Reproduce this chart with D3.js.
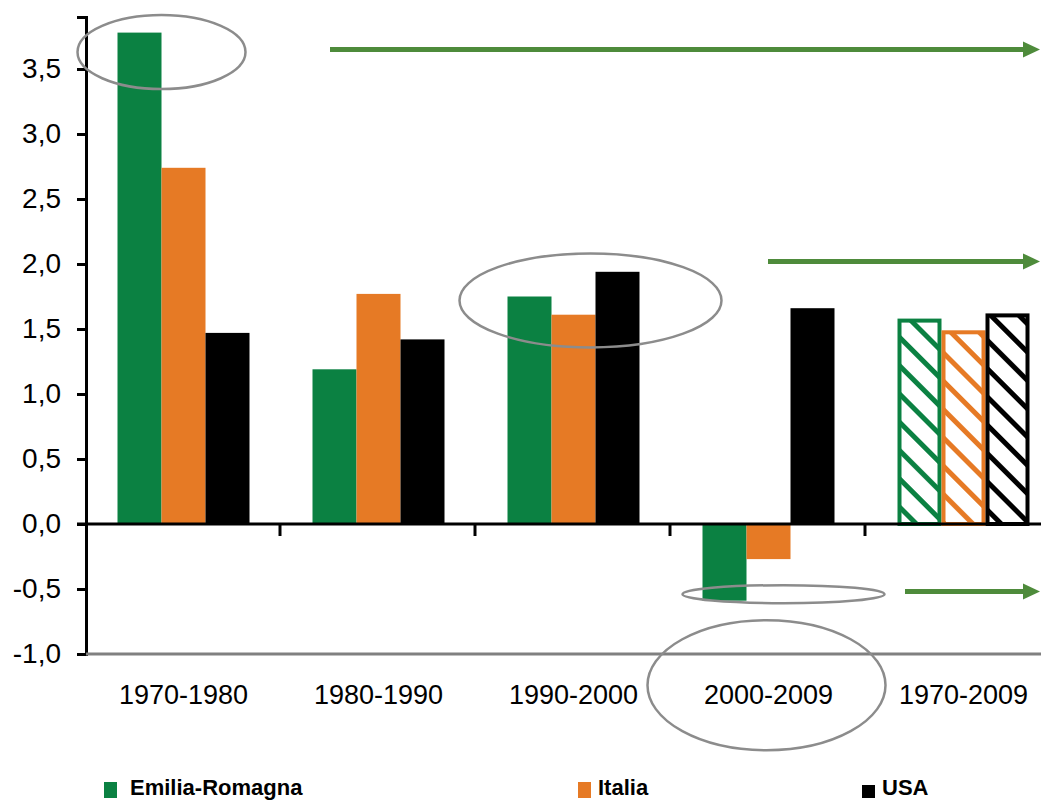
<!DOCTYPE html>
<html>
<head>
<meta charset="utf-8">
<script src="https://cdn.jsdelivr.net/npm/d3@7"></script>
<style>
  body { margin: 0; background: #fff; }
  text { font-family: "Liberation Sans", Arial, sans-serif; }
</style>
</head>
<body>
<svg width="1041" height="802"></svg>
<script>
// dati
const categories = ["1970-1980", "1980-1990", "1990-2000", "2000-2009", "1970-2009"];
const emilia = [3.78, 1.19, 1.75, -0.59, 1.58];
const italia = [2.74, 1.77, 1.61, -0.27, 1.49];
const usa = [1.47, 1.42, 1.94, 1.66, 1.62];
const seriesNames = ["Emilia-Romagna", "Italia", "USA"];
const yTicks = [-1, -0.5, 0, 0.5, 1, 1.5, 2, 2.5, 3, 3.5];

const svg = d3.select("svg");
const colors = ["#0b8142", "#e67a25", "#000000"];
const arrowColor = "#4e8b3b";
const ellipseColor = "#8c8c8c";

const x = d3.scaleBand().domain(categories).range([86, 1061]).padding(0);
const xs = d3.scaleBand().domain(seriesNames)
  .range([x.bandwidth() / 2 - 66, x.bandwidth() / 2 + 66]);
const y = d3.scaleLinear().domain([-1, 3.9]).range([654, 17]);

const values = [emilia, italia, usa];
const data = [];
categories.forEach((c, i) => {
  seriesNames.forEach((s, j) => {
    data.push({ cat: c, serie: s, j, value: values[j][i], hatch: i === categories.length - 1 });
  });
});

// motivo a tratteggio per la colonna 1970-2009
const defs = svg.append("defs");
colors.forEach((c, j) => {
  const p = defs.append("pattern")
    .attr("id", "hatch" + j)
    .attr("patternUnits", "userSpaceOnUse")
    .attr("width", 20).attr("height", 20)
    .attr("patternTransform", "rotate(45)");
  p.append("rect").attr("width", 20).attr("height", 20).attr("fill", "#fff");
  p.append("rect").attr("width", 20).attr("height", 5).attr("fill", c);
});

// barre piene
svg.append("g").selectAll("rect")
  .data(data.filter(d => !d.hatch))
  .join("rect")
  .attr("x", d => x(d.cat) + xs(d.serie))
  .attr("y", d => y(Math.max(0, d.value)))
  .attr("width", xs.bandwidth())
  .attr("height", d => Math.abs(y(d.value) - y(0)))
  .attr("fill", d => colors[d.j]);

// barre tratteggiate
svg.append("g").selectAll("rect")
  .data(data.filter(d => d.hatch))
  .join("rect")
  .attr("x", d => x(d.cat) + xs(d.serie) + 2)
  .attr("y", d => y(d.value) + 2)
  .attr("width", xs.bandwidth() - 4)
  .attr("height", d => y(0) - y(d.value) - 2)
  .attr("fill", d => "url(#hatch" + d.j + ")")
  .attr("stroke", d => colors[d.j])
  .attr("stroke-width", 4);

// asse Y
const yAxis = svg.append("g")
  .attr("transform", "translate(86,0)")
  .call(d3.axisLeft(y).tickValues(yTicks).tickSize(9).tickPadding(16)
    .tickFormat(d => d3.format(".1f")(d).replace(".", ",").replace("−", "-")));
yAxis.select(".domain").attr("stroke", "#000").attr("stroke-width", 3);
yAxis.selectAll(".tick line").attr("stroke", "#000").attr("stroke-width", 3);
yAxis.selectAll(".tick text")
  .attr("font-size", 28).attr("fill", "#000")
  .attr("font-family", "'Liberation Sans', Arial, sans-serif");

// linea di fondo grigia
svg.append("line")
  .attr("x1", 86).attr("x2", 1041)
  .attr("y1", y(-1)).attr("y2", y(-1))
  .attr("stroke", "#808080").attr("stroke-width", 3);

// asse X sulla linea dello zero
const xAxis = svg.append("g")
  .attr("transform", `translate(0,${y(0)})`);
xAxis.append("line")
  .attr("x1", 77).attr("x2", 1041)
  .attr("stroke", "#000").attr("stroke-width", 3);
xAxis.selectAll(".sep")
  .data(categories.slice(1))
  .join("line")
  .attr("class", "sep")
  .attr("x1", d => x(d) - 1).attr("x2", d => x(d) - 1)
  .attr("y1", 0).attr("y2", 12)
  .attr("stroke", "#000").attr("stroke-width", 3);

// etichette categorie
svg.append("g").selectAll("text")
  .data(categories)
  .join("text")
  .attr("x", d => x(d) + x.bandwidth() / 2)
  .attr("y", 704)
  .attr("text-anchor", "middle")
  .attr("font-size", 27)
  .text(d => d);

// ellissi di evidenziazione (centro in unità dati, raggi in px)
const ellipses = [
  { cat: "1970-1980", dx: -22, v: 3.63, rx: 84, ry: 37 },
  { cat: "1990-2000", dx: 17, v: 1.72, rx: 131, ry: 47 },
  { cat: "2000-2009", dx: 15, v: -0.54, rx: 101, ry: 9 },
  { cat: "2000-2009", dx: -2, v: -1.24, rx: 119, ry: 65 }
];
svg.append("g").selectAll("ellipse")
  .data(ellipses)
  .join("ellipse")
  .attr("cx", d => x(d.cat) + x.bandwidth() / 2 + d.dx)
  .attr("cy", d => y(d.v))
  .attr("rx", d => d.rx).attr("ry", d => d.ry)
  .attr("fill", "none")
  .attr("stroke", ellipseColor)
  .attr("stroke-width", 2.5);

// frecce verdi
const arrows = [
  { x1: 330, v: 3.65 },
  { x1: 768, v: 2.02 },
  { x1: 905, v: -0.52 }
];
const ag = svg.append("g").selectAll("g")
  .data(arrows)
  .join("g")
  .attr("transform", d => `translate(0,${y(d.v)})`);
ag.append("line")
  .attr("x1", d => d.x1).attr("x2", 1026)
  .attr("stroke", arrowColor).attr("stroke-width", 5);
ag.append("path")
  .attr("d", "M1023,-8 L1040,0 L1023,8 Z")
  .attr("fill", arrowColor);

// legenda
const legendX = [104, 578, 862];
const lg = svg.append("g").selectAll("g")
  .data(seriesNames)
  .join("g")
  .attr("transform", (d, i) => `translate(${legendX[i]},0)`);
lg.append("rect")
  .attr("x", 0).attr("y", (d, i) => i === 2 ? 785 : 782)
  .attr("width", 13)
  .attr("height", (d, i) => i === 2 ? 13 : 16)
  .attr("fill", (d, i) => colors[i]);
lg.append("text")
  .attr("x", (d, i) => i === 0 ? 26 : 20)
  .attr("y", 795)
  .attr("font-size", 22)
  .attr("font-weight", "bold")
  .text(d => d);
</script>
</body>
</html>
